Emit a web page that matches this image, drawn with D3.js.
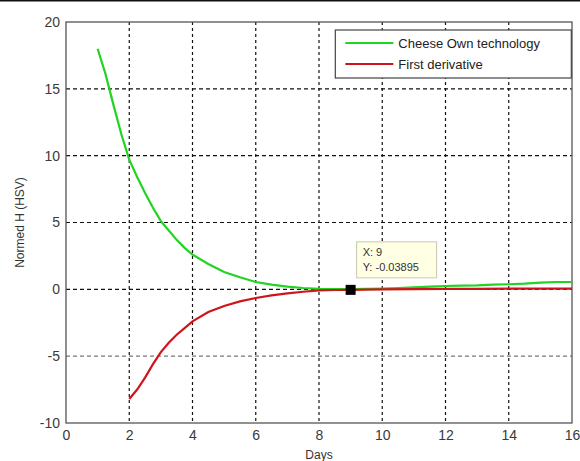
<!DOCTYPE html>
<html>
<head>
<meta charset="utf-8">
<script src="https://cdn.jsdelivr.net/npm/d3@7"></script>
<style>
  body { margin: 0; background: #fff; }
  text { font-family: "Liberation Sans", Arial, sans-serif; }
</style>
</head>
<body>
<div id="chart"></div>
<script>
// data
var greenX = [1, 1.25, 1.5, 1.75, 2, 2.25, 2.5, 2.75, 3, 3.25, 3.5, 3.75, 4, 4.5, 5, 5.5, 6, 6.5, 7, 7.5, 8, 8.5, 9, 9.5, 10, 10.5, 11, 11.5, 12, 12.5, 13, 13.5, 14, 14.5, 15, 15.5, 16];
var greenY = [18.0, 16.1, 13.8, 11.6, 9.7, 8.4, 7.2, 6.1, 5.1, 4.4, 3.7, 3.1, 2.6, 1.9, 1.3, 0.9, 0.55, 0.35, 0.2, 0.1, 0.04, 0.02, 0.02, 0.04, 0.06, 0.1, 0.15, 0.2, 0.25, 0.28, 0.3, 0.35, 0.38, 0.42, 0.5, 0.55, 0.55];
var redX = [2, 2.25, 2.5, 2.75, 3, 3.25, 3.5, 3.75, 4, 4.5, 5, 5.5, 6, 6.5, 7, 7.5, 8, 8.5, 9, 10, 11, 12, 13, 14, 15, 16];
var redY = [-8.2, -7.5, -6.6, -5.6, -4.7, -4.0, -3.4, -2.9, -2.4, -1.7, -1.25, -0.9, -0.65, -0.45, -0.3, -0.18, -0.08, -0.05, -0.04, 0.0, 0.02, 0.03, 0.04, 0.05, 0.05, 0.06];
var xTicks = [0, 2, 4, 6, 8, 10, 12, 14, 16];
var yTicks = [-10, -5, 0, 5, 10, 15, 20];
var seriesNames = ["Cheese Own technology", "First derivative"];
var tipX = 9, tipY = -0.03895;

var W = 580, H = 461;
var margin = { top: 22, right: 8, bottom: 38, left: 66 },
  width = W - margin.left - margin.right,
  height = H - margin.top - margin.bottom;

var svgRoot = d3.select("#chart")
  .append("svg")
  .attr("width", W)
  .attr("height", H);

// the dark strip along the top edge
svgRoot.append("line")
  .attr("x1", 0).attr("x2", W).attr("y1", 0.5).attr("y2", 0.5)
  .attr("stroke", "#111").attr("stroke-width", 2);

var svg = svgRoot.append("g")
  .attr("transform", "translate(" + margin.left + "," + margin.top + ")");

var x = d3.scaleLinear().domain([0, 16]).range([0, width]);
var y = d3.scaleLinear().domain([-10, 20]).range([height, 0]);

// grid
svg.append("g")
  .selectAll("line.vg")
  .data(xTicks.slice(1, -1))
  .enter().append("line")
  .attr("x1", function(d) { return x(d); })
  .attr("x2", function(d) { return x(d); })
  .attr("y1", 0).attr("y2", height)
  .attr("stroke", "#111").attr("stroke-width", 1.2)
  .attr("stroke-dasharray", "3,3");

svg.append("g")
  .selectAll("line.hg")
  .data(yTicks.slice(1, -1))
  .enter().append("line")
  .attr("x1", 0).attr("x2", width)
  .attr("y1", function(d) { return y(d); })
  .attr("y2", function(d) { return y(d); })
  .attr("stroke", function(d) { return d == -5 ? "#777" : "#111"; })
  .attr("stroke-width", 1.2)
  .attr("stroke-dasharray", "4,3");

// axes box
svg.append("rect")
  .attr("width", width).attr("height", height)
  .attr("fill", "none").attr("stroke", "#555").attr("stroke-width", 1.3);

// plain hyphen for negatives, like the original
var fmt = function(d) { return String(d); };

var xAxis = svg.append("g")
  .attr("transform", "translate(0," + height + ")")
  .call(d3.axisBottom(x).tickValues(xTicks).tickFormat(fmt).tickSize(0).tickPadding(7));
var yAxis = svg.append("g")
  .call(d3.axisLeft(y).tickValues(yTicks).tickFormat(fmt).tickSize(0).tickPadding(6));
[xAxis, yAxis].forEach(function(a) {
  a.select(".domain").remove();
  a.selectAll("text").style("font-size", "14px").style("fill", "#3a3a3a")
    .style("font-family", "'Liberation Sans', Arial, sans-serif");
});

// lines
var line = d3.line()
  .x(function(d) { return x(d[0]); })
  .y(function(d) { return y(d[1]); });

svg.append("path")
  .datum(d3.zip(greenX, greenY))
  .attr("fill", "none").attr("stroke", "#22d422").attr("stroke-width", 2.2)
  .attr("d", line);

svg.append("path")
  .datum(d3.zip(redX, redY))
  .attr("fill", "none").attr("stroke", "#d0141c").attr("stroke-width", 2.2)
  .attr("d", line);

// data tip
svg.append("rect")
  .attr("x", x(tipX) - 5).attr("y", y(tipY) - 5)
  .attr("width", 10).attr("height", 10)
  .attr("fill", "#000");

var tip = svg.append("g")
  .attr("transform", "translate(" + (x(tipX) + 6) + "," + (y(tipY) - 48) + ")");
tip.append("rect")
  .attr("width", 80).attr("height", 36)
  .attr("fill", "#ffffe4").attr("stroke", "#c8c8b0");
tip.append("text").attr("x", 6).attr("y", 14)
  .style("font-size", "11px").style("fill", "#333").text("X: " + tipX);
tip.append("text").attr("x", 6).attr("y", 29)
  .style("font-size", "11px").style("fill", "#333").text("Y: " + tipY);

// legend
var lg = svg.append("g")
  .attr("transform", "translate(" + (x(8.5) + 0.5) + ",8)");
lg.append("rect")
  .attr("width", 236).attr("height", 48)
  .attr("fill", "#fff").attr("stroke", "#444").attr("stroke-width", 1.2);
var legColors = ["#22d422", "#d0141c"];
seriesNames.forEach(function(name, i) {
  lg.append("line")
    .attr("x1", 10).attr("x2", 58)
    .attr("y1", 13 + i * 21).attr("y2", 13 + i * 21)
    .attr("stroke", legColors[i]).attr("stroke-width", 2.2);
  lg.append("text")
    .attr("x", 63).attr("y", 18 + i * 21)
    .style("font-size", "13px").style("fill", "#222")
    .text(name);
});

// axis titles
svg.append("text")
  .attr("text-anchor", "middle")
  .attr("x", width / 2).attr("y", height + 36)
  .style("font-size", "12px").style("fill", "#333")
  .text("Days");

svg.append("text")
  .attr("text-anchor", "middle")
  .attr("transform", "translate(" + (-42) + "," + (height / 2) + ") rotate(-90)")
  .style("font-size", "12px").style("fill", "#333")
  .text("Normed H (HSV)");
</script>
</body>
</html>
